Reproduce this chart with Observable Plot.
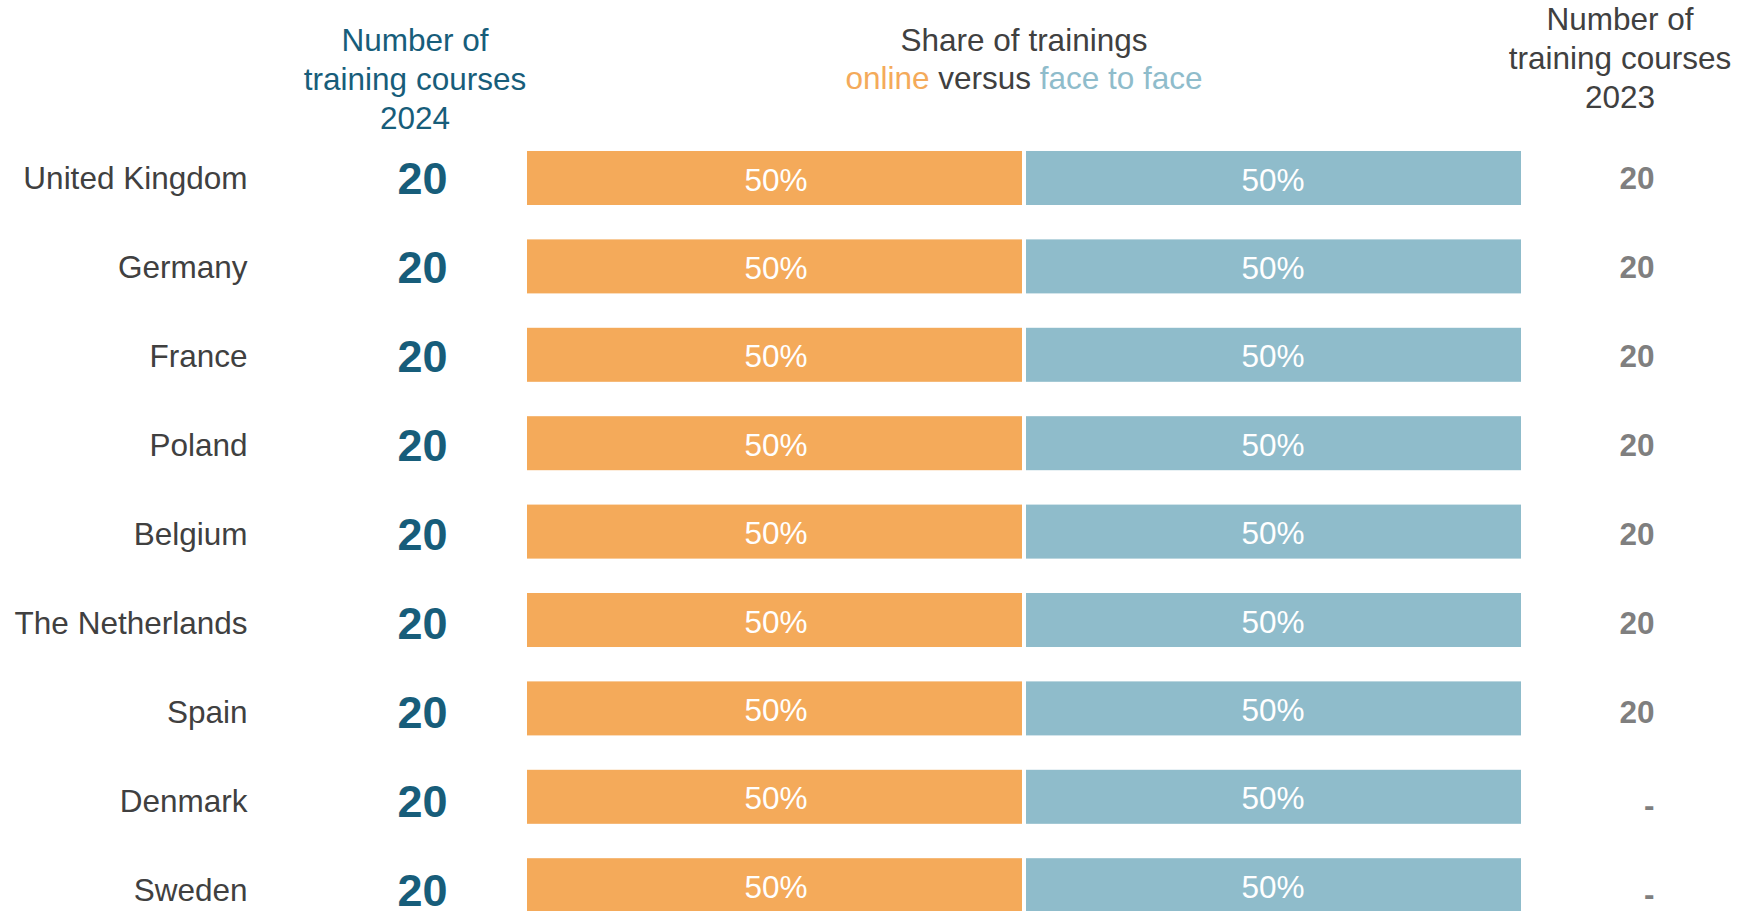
<!DOCTYPE html>
<html>
<head>
<meta charset="utf-8">
<script src="https://cdn.jsdelivr.net/npm/d3@7"></script>
<script src="https://cdn.jsdelivr.net/npm/@observablehq/plot@0.6"></script>
<style>
  html, body { margin: 0; padding: 0; background: #fff; overflow: hidden; }
  #chart { position: relative; width: 1741px; height: 911px; overflow: hidden; }
  #chart svg { position: absolute; left: 0; top: 0; }
</style>
</head>
<body>
<div id="chart"></div>
<script>
// ---- data ----
const countries = ["United Kingdom", "Germany", "France", "Poland", "Belgium", "The Netherlands", "Spain", "Denmark", "Sweden"];
const courses2024 = [20, 20, 20, 20, 20, 20, 20, 20, 20];
const onlineShare = [50, 50, 50, 50, 50, 50, 50, 50, 50];
const faceShare = [50, 50, 50, 50, 50, 50, 50, 50, 50];
const courses2023 = [20, 20, 20, 20, 20, 20, 20, null, null];

const headerLeft = ["Number of", "training courses", "2024"];
const headerMiddle = ["Share of trainings"];
const headerMiddleParts = ["online", " versus ", "face to face"];
const headerRight = ["Number of", "training courses", "2023"];

// ---- styles ----
const ORANGE = "#F4AA5A";
const BLUE = "#8FBCCB";
const TEAL = "#175D7A";
const DARK = "#404040";
const GREY = "#7F7F7F";
const FONT = "'Liberation Sans', Arial, Helvetica, sans-serif";
const FS = 31.5;

const rows = countries.map((c, i) => ({
  country: c,
  c24: courses2024[i],
  online: onlineShare[i],
  face: faceShare[i],
  c23: courses2023[i]
}));

function headers(index, scales, values, dimensions) {
  const g = d3.create("svg:g")
    .attr("font-family", FONT)
    .attr("font-size", FS)
    .attr("text-anchor", "middle");
  const lh = 39;
  headerLeft.forEach((t, i) => {
    g.append("text").attr("x", 415).attr("y", 51 + i * lh).attr("fill", TEAL).text(t);
  });
  const xm = 1024;
  headerMiddle.forEach((t, i) => {
    g.append("text").attr("x", xm).attr("y", 51 + i * lh).attr("fill", DARK).text(t);
  });
  const t2 = g.append("text").attr("x", xm).attr("y", 89).attr("xml:space", "preserve").style("white-space", "pre");
  const cols = [ORANGE, DARK, BLUE];
  headerMiddleParts.forEach((p, i) => t2.append("tspan").attr("fill", cols[i]).text(p));
  headerRight.forEach((t, i) => {
    g.append("text").attr("x", 1620).attr("y", 30 + i * lh).attr("fill", DARK).text(t);
  });
  return g.node();
}

// bars layer
const bars = Plot.plot({
  width: 1741,
  height: 911,
  margin: 0,
  style: { fontFamily: FONT, overflow: "hidden", background: "#fff" },
  x: { domain: [0, 100], range: [527, 1521], axis: null },
  y: { domain: countries, range: [116.6, 946.6], padding: 0.389, round: false, axis: null },
  marks: [
    Plot.barX(rows, { x1: () => 0, x2: d => d.online, y: "country", fill: ORANGE, insetRight: 2 }),
    Plot.barX(rows, { x1: d => d.online, x2: d => d.online + d.face, y: "country", fill: BLUE, insetLeft: 2 }),
    Plot.text(rows, { x: d => d.online / 2, y: "country", text: d => `${d.online}%`, fill: "white", fontSize: FS, dy: 2 }),
    Plot.text(rows, { x: d => d.online + d.face / 2, y: "country", text: d => `${d.face}%`, fill: "white", fontSize: FS, dy: 2 })
  ]
});

// table text layer (its own row grid)
const table = Plot.plot({
  width: 1741,
  height: 911,
  margin: 0,
  style: { fontFamily: FONT, overflow: "hidden", background: "transparent" },
  y: { type: "point", domain: countries, range: [176.5, 890.9], padding: 0, axis: null },
  marks: [
    Plot.text(rows, { y: "country", text: "country", frameAnchor: "left", dx: 247, textAnchor: "end", fill: DARK, fontSize: FS }),
    Plot.text(rows, { y: "country", text: d => String(d.c24), frameAnchor: "left", dx: 422, textAnchor: "middle", fill: TEAL, fontSize: 45, fontWeight: "bold", dy: 1 }),
    Plot.text(rows.filter(d => d.c23 != null), { y: "country", text: d => String(d.c23), frameAnchor: "left", dx: 1654, textAnchor: "end", fill: GREY, fontSize: FS, fontWeight: "bold" }),
    Plot.text(rows.filter(d => d.c23 == null), { y: "country", text: () => "-", frameAnchor: "left", dx: 1654, textAnchor: "end", fill: GREY, fontSize: FS, fontWeight: "bold", dy: 4 }),
    headers
  ]
});

const root = document.getElementById("chart");
root.appendChild(bars);
root.appendChild(table);
</script>
</body>
</html>
